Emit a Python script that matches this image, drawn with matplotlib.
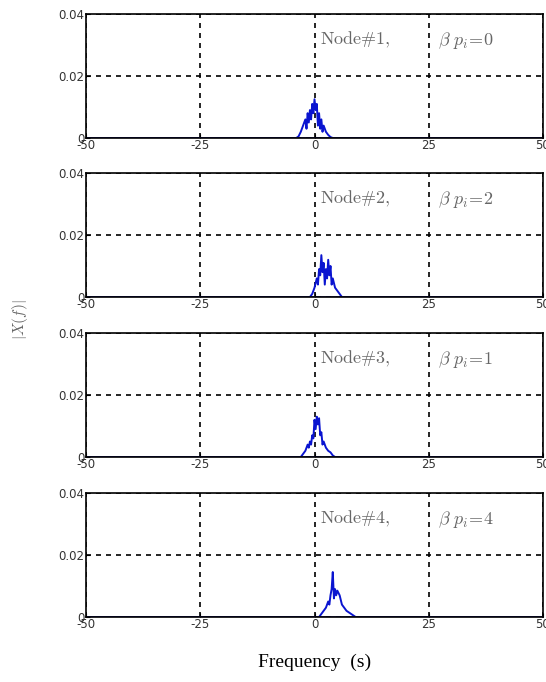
import numpy as np
import matplotlib.pyplot as plt

plt.rcParams['mathtext.fontset'] = 'cm'
plt.rcParams['axes.unicode_minus'] = False

# spectrum magnitude of each node, zero elsewhere
freq1 = [-50, -4, -3.5, -3, -2.5, -2, -1.75, -1.5, -1.25, -1, -0.75, -0.5, -0.25, 0,
         0.25, 0.5, 0.75, 1, 1.25, 1.5, 1.75, 2, 2.5, 3, 3.5, 4, 50]
amp1 = [0, 0, 0.0005, 0.002, 0.004, 0.006, 0.003, 0.008, 0.005, 0.009, 0.006, 0.011, 0.008, 0.0125,
        0.009, 0.011, 0.004, 0.008, 0.003, 0.006, 0.002, 0.004, 0.002, 0.001, 0.0003, 0, 0]

freq2 = [-50, -1, -0.5, 0, 0.5, 0.75, 1, 1.25, 1.5, 1.75, 2, 2.25, 2.5, 2.75, 3,
         3.25, 3.5, 3.75, 4, 4.5, 5, 5.5, 6, 50]
amp2 = [0, 0, 0.001, 0.003, 0.006, 0.004, 0.009, 0.007, 0.0135, 0.008, 0.011, 0.004, 0.009, 0.006, 0.012,
        0.007, 0.010, 0.004, 0.006, 0.003, 0.002, 0.001, 0, 0]

freq3 = [-50, -3, -2.5, -2, -1.5, -1.25, -1, -0.75, -0.5, -0.25, 0, 0.25, 0.5, 0.75, 1, 1.25,
         1.5, 1.75, 2, 2.5, 3, 3.5, 4, 4.5, 50]
amp3 = [0, 0, 0.001, 0.002, 0.004, 0.003, 0.005, 0.004, 0.007, 0.006, 0.012, 0.009, 0.013, 0.0105, 0.0125, 0.007,
        0.008, 0.004, 0.005, 0.003, 0.002, 0.0015, 0.0005, 0, 0]

freq4 = [-50, 1, 1.5, 2, 2.5, 3, 3.25, 3.5, 3.75, 4, 4.25, 4.5, 4.75, 5, 5.5,
         6, 6.5, 7, 7.5, 8, 8.5, 9, 50]
amp4 = [0, 0, 0.001, 0.002, 0.003, 0.005, 0.004, 0.007, 0.009, 0.0145, 0.006, 0.009, 0.007, 0.0085, 0.007,
        0.004, 0.003, 0.002, 0.0015, 0.001, 0.0005, 0, 0]

node_labels = ['Node#1,', 'Node#2,', 'Node#3,', 'Node#4,']
beta_labels = ['0', '2', '1', '4']
xticks = [-50, -25, 0, 25, 50]
yticks = [0, 0.02, 0.04]
ytick_labels = ['0', '0.02', '0.04']

freqs = [freq1, freq2, freq3, freq4]
amps = [amp1, amp2, amp3, amp4]

fig = plt.figure(figsize=(5.46, 6.82), dpi=100)

W, H = 546.0, 682.0
left, right = 86, 543
tops = [14, 173, 333, 493]
ph = 124

for i in range(4):
    ax = fig.add_axes([left / W, 1 - (tops[i] + ph) / H, (right - left) / W, ph / H])
    ax.plot(freqs[i], amps[i], color='#0a14d0', lw=1.4)
    ax.axhline(0, color='#1a1a90', lw=1.2)
    ax.set_xlim(-50, 50)
    ax.set_ylim(0, 0.04)
    ax.set_xticks(xticks)
    ax.set_yticks(yticks)
    ax.set_yticklabels(ytick_labels)
    ax.tick_params(direction='in', labelsize=8.5, labelcolor='#333333', length=3, pad=1)
    ax.grid(True, color='black', ls=(0, (3, 3)), lw=1.2)
    for s in ax.spines.values():
        s.set_linewidth(1.2)
    ax.text(1.2, 0.0315, r'$\mathrm{' + node_labels[i].replace('#', r'\#') + '}$',
            fontsize=13, color='#666666', va='center')
    ax.text(27, 0.0315, r'$\beta\ p_i\!=\!' + beta_labels[i] + '$',
            fontsize=13, color='#666666', va='center')

fig.text(20 / W, 1 - 320 / H, r'$|X(f)|$', rotation=90, fontsize=11, color='#666666',
         ha='center', va='center')
fig.text((left + right) / 2 / W, 1 - 662 / H, 'Frequency  (s)', family='Liberation Serif',
         fontsize=14, ha='center', va='center')

fig.savefig('out.png', dpi=100)
